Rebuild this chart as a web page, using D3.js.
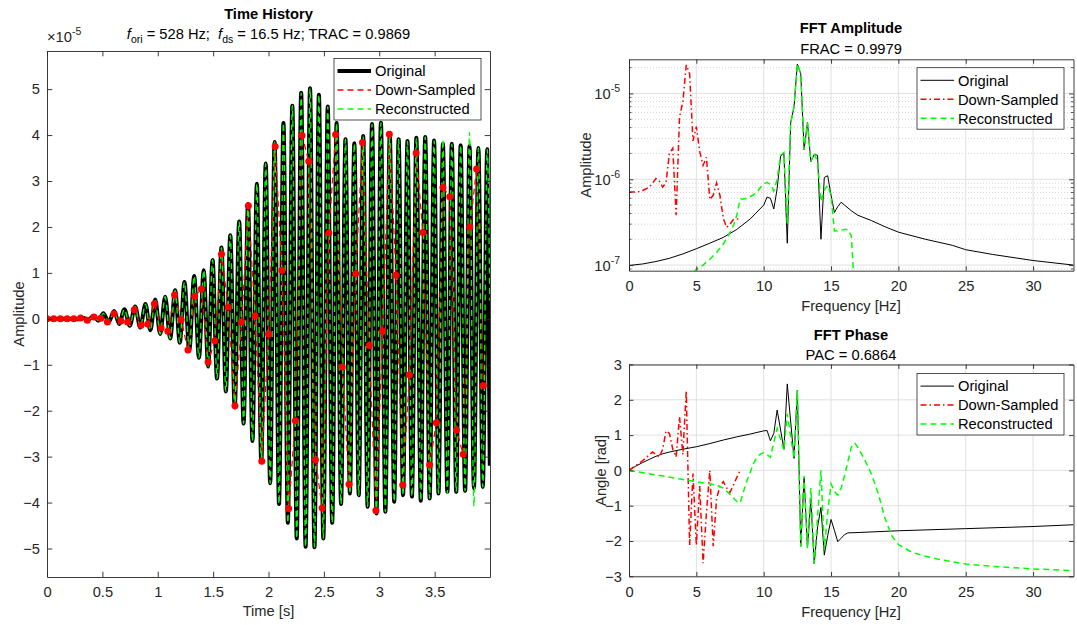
<!DOCTYPE html>
<html>
<head>
<meta charset="utf-8">
<script src="https://cdn.jsdelivr.net/npm/d3@7"></script>
<style>
  body { margin: 0; background: #fff; }
  svg { display: block; }
</style>
</head>
<body>
<script>
// Time history: extrema of the signals (units of 1e-5)
var thTime = [0, 0.104, 0.149, 0.194, 0.239, 0.284, 0.329, 0.374, 0.419, 0.464,
  0.509, 0.557, 0.606, 0.652, 0.699, 0.747, 0.796, 0.842, 0.889, 0.933,
  0.977, 1.022, 1.067, 1.112, 1.157, 1.199, 1.241, 1.285, 1.329, 1.372,
  1.415, 1.455, 1.495, 1.535, 1.575, 1.615, 1.655, 1.695, 1.735, 1.775,
  1.815, 1.855, 1.895, 1.935, 1.975, 2.015, 2.055, 2.095, 2.135, 2.175,
  2.215, 2.255, 2.295, 2.335, 2.375, 2.415, 2.455, 2.495, 2.535, 2.575,
  2.615, 2.655, 2.695, 2.735, 2.775, 2.815, 2.855, 2.895, 2.935, 2.975,
  3.015, 3.055, 3.095, 3.135, 3.175, 3.215, 3.255, 3.295, 3.335, 3.375,
  3.415, 3.455, 3.495, 3.535, 3.575, 3.615, 3.655, 3.695, 3.735, 3.775,
  3.815, 3.855, 3.895, 3.935, 3.975, 3.998];
var thOrig = [0, 0, 0, -0.005, 0.005, -0.01, 0.02, -0.02, 0.06, -0.04,
  0.12, -0.07, 0.17, -0.11, 0.21, -0.15, 0.27, -0.19, 0.32, -0.25,
  0.42, -0.33, 0.48, -0.43, 0.62, -0.52, 0.80, -0.68, 0.93, -0.85,
  1.06, -1.04, 1.28, -1.30, 1.55, -1.58, 1.82, -1.93, 2.12, -2.28,
  2.50, -2.66, 2.94, -3.12, 3.38, -3.58, 3.85, -4.03, 4.26, -4.44,
  4.64, -4.78, 4.92, -4.96, 5.02, -4.97, 4.88, -4.78, 4.62, -4.44,
  4.26, -4.03, 3.91, -3.80, 3.82, -3.84, 3.98, -4.09, 4.24, -4.24,
  4.27, -4.20, 4.02, -3.98, 3.91, -3.84, 3.87, -3.87, 3.94, -3.96,
  3.96, -3.91, 3.88, -3.80, 3.81, -3.77, 3.81, -3.77, 3.78, -3.75,
  3.76, -3.69, 3.72, -3.66, 3.69, -3.2];
var thRecon = [0, 0, 0, -0.005, 0.005, -0.01, 0.02, -0.02, 0.06, -0.04,
  0.12, -0.07, 0.17, -0.11, 0.21, -0.15, 0.27, -0.19, 0.32, -0.25,
  0.42, -0.33, 0.48, -0.43, 0.62, -0.52, 0.80, -0.68, 0.93, -0.85,
  1.06, -1.04, 1.28, -1.30, 1.55, -1.58, 1.82, -1.93, 2.12, -2.28,
  2.50, -2.66, 2.94, -3.12, 3.38, -3.58, 3.85, -4.03, 4.26, -4.44,
  4.64, -4.78, 4.92, -4.96, 5.02, -4.97, 4.88, -4.78, 4.62, -4.44,
  4.26, -4.03, 3.91, -3.80, 3.82, -3.84, 3.98, -4.09, 4.24, -4.24,
  4.27, -4.20, 4.02, -3.98, 3.91, -3.84, 3.87, -3.87, 3.94, -3.96,
  3.96, -3.91, 3.88, -3.80, 3.90, -3.80, 3.81, -3.77, 3.78, -3.75,
  4.06, -4.08, 3.72, -3.66, 3.69, 0.4];

// Down-sampled points (16.5 Hz), units of 1e-5
var dsRate = 16.5;
var dsSamples = [0, 0, 0, 0, 0, 0.02, -0.03, 0.04, 0.01, -0.07,
  0.11, -0.05, -0.07, 0.2, -0.14, -0.11, 0.33, -0.2, -0.27, 0.52,
  -0.02, -0.68, 0.49, 0.65, -0.94, -0.48, 1.41, 0.25, -1.89, -0.07,
  2.46, 0.06, -3.1, -0.33, 3.75, 1.06, -4.13, -2.22, 3.99, 3.43,
  -3.07, -4.12, 1.87, 4.01, -1.05, -3.6, 0.98, 3.84, -0.58, -4.17,
  -0.27, 4.02, 0.95, -3.62, -1.22, 3.61, 1.88, -3.18, -2.26, 2.86,
  2.66, -2.42, -2.95, 2.0, 3.26, -1.45];

// FFT amplitude
var ampOrigF = [0, 1, 2, 3, 4, 5, 6, 7, 8, 9, 9.5, 10, 10.25, 10.5, 10.75, 11, 11.25, 11.5, 11.75,
  12, 12.25, 12.5, 12.75, 13, 13.25, 13.5, 13.75, 14, 14.25, 14.5, 14.75, 15, 15.25, 15.5, 15.75,
  16, 16.5, 17, 18, 19, 20, 22, 24, 25, 27, 30, 33];
var ampOrigV = [9.9e-8, 1.03e-7, 1.1e-7, 1.2e-7, 1.35e-7, 1.55e-7, 1.8e-7, 2.1e-7, 2.6e-7, 3.45e-7,
  4.15e-7, 5.0e-7, 6.2e-7, 6.0e-7, 4.5e-7, 7.8e-7, 1.85e-6, 2.0e-6, 1.8e-7,
  4.5e-6, 7e-6, 2.2e-5, 1.7e-5, 2.2e-6, 4.6e-6, 1.6e-6, 1.95e-6, 1.9e-6, 2.0e-7, 1.05e-6, 1.1e-6,
  6.5e-7, 4.1e-7, 4.8e-7, 5.4e-7, 5.0e-7, 4.3e-7, 3.8e-7, 3.3e-7, 2.8e-7, 2.42e-7, 2.0e-7,
  1.7e-7, 1.51e-7, 1.33e-7, 1.13e-7, 1.0e-7];
var ampDsF = [0, 0.25, 0.5, 0.75, 1, 1.25, 1.5, 1.75, 2, 2.25, 2.5, 2.75, 3, 3.25, 3.5, 3.75, 4,
  4.25, 4.5, 4.75, 5, 5.25, 5.5, 5.75, 6, 6.25, 6.5, 6.75, 7, 7.25, 7.5, 7.75, 8, 8.25];
var ampDsV = [7.1e-7, 7.1e-7, 7.1e-7, 7.2e-7, 7.4e-7, 7.7e-7, 8.1e-7, 9.0e-7, 1.02e-6, 9.5e-7,
  8.1e-7, 9.2e-7, 2.0e-6, 2.3e-6, 3.8e-7, 5.3e-6, 8e-6, 2.15e-5, 1.7e-5, 2.8e-6, 4.1e-6,
  2.1e-6, 1.45e-6, 1.8e-6, 5.8e-7, 6.5e-7, 9.1e-7, 6.5e-7, 3.5e-7, 2.75e-7, 3.0e-7, 3.4e-7,
  3.45e-7, 3.45e-7];
var ampRecF = [4.5, 4.75, 5, 5.5, 6, 6.5, 7, 7.5, 7.75, 8, 8.25, 8.5, 8.75, 9, 9.25, 9.5, 9.75,
  10, 10.25, 10.5, 10.75, 11, 11.25, 11.5, 11.75, 12, 12.25, 12.5, 12.75, 13, 13.25, 13.5,
  13.75, 14, 14.25, 14.5, 14.75, 15, 15.25, 15.5, 15.75, 16, 16.25, 16.5, 16.75, 17];
var ampRecV = [6.5e-8, 8.2e-8, 8.9e-8, 1.0e-7, 1.17e-7, 1.4e-7, 1.75e-7, 2.4e-7, 2.9e-7, 3.8e-7,
  5.9e-7, 5.9e-7, 6.0e-7, 6.3e-7, 6.6e-7, 7.0e-7, 8.0e-7, 8.8e-7, 9.2e-7, 8.7e-7, 7.3e-7,
  1.0e-6, 1.9e-6, 2.05e-6, 3.0e-7, 4.5e-6, 7e-6, 2.2e-5, 1.7e-5, 2.2e-6, 4.6e-6, 1.6e-6,
  2.0e-6, 1.6e-6, 5.5e-7, 7.5e-7, 8.5e-7, 6.5e-7, 2.5e-7, 2.5e-7, 2.55e-7, 2.6e-7, 2.6e-7,
  2.2e-7, 5e-8, 3e-8];

// FFT phase (rad)
var phOrigF = [0, 0.5, 1, 1.5, 2, 2.5, 3, 4, 5, 6, 7, 8, 9, 10, 10.25, 10.5, 10.75, 11, 11.5, 11.75,
  12.25, 12.5, 12.75, 13, 13.25, 13.5, 13.75, 14, 14.25, 14.5, 14.75, 15, 15.25, 15.5, 15.75,
  16, 16.25, 17, 20, 25, 30, 33];
var phOrigV = [0, 0.12, 0.22, 0.31, 0.40, 0.47, 0.52, 0.60, 0.67, 0.76, 0.86, 0.95, 1.03, 1.12,
  1.13, 0.84, 1.05, 1.71, 0.6, 2.45, 0.34, 2.27, -2.15, -0.2, -2.2, -0.8, -2.65, -1.6, -1.05,
  -2.4, -1.85, -1.39, -1.7, -2.02, -1.92, -1.82, -1.77, -1.76, -1.71, -1.65, -1.59, -1.54];
var phDsF = ampDsF;
var phDsV = [0, 0.07, 0.14, 0.2, 0.27, 0.35, 0.44, 0.52, 0.45, 0.38, 0.6, 1.12, 1.05, 0.6, 0.38,
  1.52, 0.45, 2.26, -2.12, -0.09, -2.12, -0.44, -2.63, -1.2, 0.0, -2.15, -0.8, -0.45, -0.32,
  -0.5, -0.62, -0.42, -0.2, 0.0];
var phRecF = [0, 5, 6, 6.5, 7, 7.5, 8, 8.25, 8.5, 8.75, 9, 9.25, 9.5, 9.75, 10, 10.25, 10.5, 10.75,
  11, 11.5, 11.75, 12.25, 12.5, 12.75, 13, 13.25, 13.5, 13.75, 14, 14.25, 14.5, 14.75, 15,
  15.25, 15.5, 15.75, 16, 16.25, 16.5, 16.75, 17, 17.5, 18, 18.5, 19, 19.5, 20, 21, 22, 23, 24,
  25, 27, 30, 33];
var phRecV = [0, -0.32, -0.38, -0.42, -0.5, -0.68, -0.88, -0.92, -0.6, -0.3, -0.05, 0.2, 0.38,
  0.46, 0.5, 0.45, 0.37, 0.8, 1.19, 0.58, 1.6, 0.34, 2.27, -2.16, -0.15, -2.2, -0.5, -2.65,
  -1.3, 0.0, -2.25, -1.2, -0.38, -0.6, -0.7, -0.5, -0.15, 0.25, 0.65, 0.78, 0.65, 0.3, -0.1,
  -0.65, -1.35, -1.85, -2.1, -2.32, -2.43, -2.52, -2.59, -2.65, -2.72, -2.79, -2.84];

// Ticks
var timeTicks = [0, 0.5, 1, 1.5, 2, 2.5, 3, 3.5];
var thYTicks = [-5, -4, -3, -2, -1, 0, 1, 2, 3, 4, 5];
var freqTicks = [0, 5, 10, 15, 20, 25, 30];
var ampTicks = [1e-7, 1e-6, 1e-5];
var phaseTicks = [-3, -2, -1, 0, 1, 2, 3];
var legendLabels = ["Original", "Down-Sampled", "Reconstructed"];

// ---------------------------------------------------------------
var font = '"Liberation Sans", Arial, Helvetica, sans-serif';
var fs = 14.7;
var ink = "#262626";
var red = "#ff0000", green = "#00ff00";

var svg = d3.select("body").append("svg")
    .attr("width", 1077).attr("height", 625)
    .attr("font-family", font).attr("font-size", fs);
var defs = svg.append("defs");

function styleAxis(sel) {
  sel.attr("font-family", font).attr("font-size", fs);
  sel.selectAll("path.domain").attr("stroke", ink).attr("stroke-width", 0.9);
  sel.selectAll(".tick line").attr("stroke", ink).attr("stroke-width", 0.9);
  sel.selectAll(".tick text").attr("fill", ink);
}

function clipFor(id, x, y) {
  var x0 = x.range()[0], x1 = x.range()[1], y0 = y.range()[0], y1 = y.range()[1];
  defs.append("clipPath").attr("id", id).append("rect")
    .attr("x", x0).attr("y", y1).attr("width", x1 - x0).attr("height", y0 - y1);
  return svg.append("g").attr("clip-path", "url(#" + id + ")");
}

function frame(x, y, o) {
  var x0 = x.range()[0], x1 = x.range()[1], y0 = y.range()[0], y1 = y.range()[1];
  var none = function() { return ""; };
  svg.append("g").attr("transform", "translate(0," + y0 + ")")
    .call(d3.axisBottom(x).tickValues(o.xt).tickFormat(o.xf).tickSizeInner(-o.tl).tickSizeOuter(0).tickPadding(10))
    .call(styleAxis);
  svg.append("g").attr("transform", "translate(0," + y1 + ")")
    .call(d3.axisTop(x).tickValues(o.xt).tickFormat(none).tickSizeInner(-o.tl).tickSizeOuter(0))
    .call(styleAxis);
  svg.append("g").attr("transform", "translate(" + x0 + ",0)")
    .call(d3.axisLeft(y).tickValues(o.yt).tickFormat(o.yf || none).tickSizeInner(-o.tl).tickSizeOuter(0).tickPadding(7))
    .call(styleAxis);
  svg.append("g").attr("transform", "translate(" + x1 + ",0)")
    .call(d3.axisRight(y).tickValues(o.yt).tickFormat(none).tickSizeInner(-o.tl).tickSizeOuter(0))
    .call(styleAxis);
}

function titles(cx, t1, y1, t2, y2) {
  svg.append("text").attr("x", cx).attr("y", y1).attr("text-anchor", "middle")
    .attr("font-weight", "bold").attr("fill", "#000").text(t1);
  if (t2) svg.append("text").attr("x", cx).attr("y", y2).attr("text-anchor", "middle")
    .attr("fill", "#000").text(t2);
}

function xLabel(cx, y, t) {
  svg.append("text").attr("x", cx).attr("y", y).attr("text-anchor", "middle").attr("fill", ink).text(t);
}
function yLabel(x, cy, t) {
  svg.append("text").attr("transform", "translate(" + x + "," + cy + ") rotate(-90)")
    .attr("text-anchor", "middle").attr("fill", ink).text(t);
}

function legend(bx, by, styles) {
  var g = svg.append("g");
  g.append("rect").attr("x", bx).attr("y", by).attr("width", 147).attr("height", 61.5)
    .attr("fill", "#fff").attr("stroke", ink).attr("stroke-width", 0.8);
  legendLabels.forEach(function(lab, i) {
    var yy = by + 12.6 + i * 19;
    var s = styles[i];
    g.append("line").attr("x1", bx + 3.5).attr("x2", bx + 37).attr("y1", yy).attr("y2", yy)
      .attr("stroke", s.c).attr("stroke-width", s.w).attr("stroke-dasharray", s.d || null);
    g.append("text").attr("x", bx + 41).attr("y", yy + 5.2).attr("fill", "#000").text(lab);
  });
}

function xy(x, y, xs, ys) { return xs.map(function(v, i) { return [x(v), y(ys[i])]; }); }

// ---------------- Time history ----------------
var xT = d3.scaleLinear().domain([0, 4]).range([47, 490]);
var yT = d3.scaleLinear().domain([-5.62, 5.83]).range([577, 51]);
var gT = clipFor("clipT", xT, yT);
var smooth = d3.line().curve(d3.curveMonotoneX);
var straight = d3.line();
var dsTime = dsSamples.map(function(v, k) { return k / dsRate; });

gT.append("path").attr("d", smooth(xy(xT, yT, thTime, thOrig)))
  .attr("fill", "none").attr("stroke", "#000").attr("stroke-width", 4).attr("stroke-linejoin", "round");
gT.append("path").attr("d", straight(xy(xT, yT, dsTime, dsSamples)))
  .attr("fill", "none").attr("stroke", red).attr("stroke-width", 1.3).attr("stroke-dasharray", "6,4");
gT.append("path").attr("d", smooth(xy(xT, yT, thTime, thRecon)))
  .attr("fill", "none").attr("stroke", green).attr("stroke-width", 1.3).attr("stroke-dasharray", "6,4");
gT.selectAll("circle").data(dsSamples).enter().append("circle")
  .attr("cx", function(d, k) { return xT(dsTime[k]); })
  .attr("cy", function(d) { return yT(d); })
  .attr("r", 3.5).attr("fill", red);

frame(xT, yT, { xt: timeTicks, xf: d3.format(""), yt: thYTicks, yf: d3.format(""), tl: 5.3 });

var ex = svg.append("text").attr("x", 47).attr("y", 42).attr("fill", ink);
ex.append("tspan").text("\u00d710");
ex.append("tspan").attr("font-size", 10.5).attr("dy", -7).text("-5");

titles(268.5, "Time History", 19);
var sub = svg.append("text").attr("x", 268.5).attr("y", 38.5).attr("text-anchor", "middle")
  .attr("fill", "#000").style("white-space", "pre");
sub.append("tspan").attr("font-style", "italic").text("f");
sub.append("tspan").attr("font-size", 10.5).attr("dy", 4).text("ori");
sub.append("tspan").attr("dy", -4).text(" = 528 Hz;  ");
sub.append("tspan").attr("font-style", "italic").text("f");
sub.append("tspan").attr("font-size", 10.5).attr("dy", 4).text("ds");
sub.append("tspan").attr("dy", -4).text(" = 16.5 Hz; TRAC = 0.9869");

xLabel(268.5, 616, "Time [s]");
yLabel(23.5, 314, "Amplitude");
legend(334, 58.5, [{ c: "#000", w: 4 }, { c: red, w: 1.5, d: "6,4" }, { c: green, w: 1.5, d: "6,4" }]);

// ---------------- FFT amplitude ----------------
var xF = d3.scaleLinear().domain([0, 33]).range([629, 1073.5]);
var yA = d3.scaleLog().domain([8.6e-8, 2.5e-5]).range([270.7, 59.3]);
var yP = d3.scaleLinear().domain([-3, 3]).range([576.3, 364.5]);

function grid(x, y, yt, minor) {
  var g = svg.append("g");
  var x0 = x.range()[0], x1 = x.range()[1], y0 = y.range()[0], y1 = y.range()[1];
  if (minor) {
    g.selectAll("line.mn").data(minor).enter().append("line")
      .attr("x1", x0).attr("x2", x1).attr("y1", function(d) { return y(d); }).attr("y2", function(d) { return y(d); })
      .attr("stroke", "#c4c4c4").attr("stroke-width", 0.7).attr("stroke-dasharray", "1,2");
  }
  g.selectAll("line.vx").data(freqTicks.slice(1)).enter().append("line")
    .attr("x1", function(d) { return x(d); }).attr("x2", function(d) { return x(d); })
    .attr("y1", y0).attr("y2", y1).attr("stroke", "#dedede").attr("stroke-width", 0.9);
  g.selectAll("line.hy").data(yt).enter().append("line")
    .attr("x1", x0).attr("x2", x1).attr("y1", function(d) { return y(d); }).attr("y2", function(d) { return y(d); })
    .attr("stroke", "#dedede").attr("stroke-width", 0.9);
}

var minorAmp = [];
[1e-7, 1e-6, 1e-5].forEach(function(dec) {
  [2, 3, 4, 5, 6, 7, 8, 9].forEach(function(m) {
    var v = m * dec;
    if (v > yA.domain()[0] && v < yA.domain()[1]) minorAmp.push(v);
  });
});
minorAmp.push(9e-8);

grid(xF, yA, ampTicks, minorAmp);
var gA = clipFor("clipA", xF, yA);
gA.append("path").attr("d", straight(xy(xF, yA, ampOrigF, ampOrigV)))
  .attr("fill", "none").attr("stroke", "#000").attr("stroke-width", 1);
gA.append("path").attr("d", straight(xy(xF, yA, ampDsF, ampDsV)))
  .attr("fill", "none").attr("stroke", red).attr("stroke-width", 1.5).attr("stroke-dasharray", "6,3,1.5,3");
gA.append("path").attr("d", straight(xy(xF, yA, ampRecF, ampRecV)))
  .attr("fill", "none").attr("stroke", green).attr("stroke-width", 1.5).attr("stroke-dasharray", "6,4");

frame(xF, yA, { xt: freqTicks, xf: d3.format(""), yt: ampTicks, yf: null, tl: 4.4 });
// minor ticks on log axis
svg.append("g").selectAll("line").data(minorAmp).enter().append("line")
  .attr("x1", 629).attr("x2", 631.5).attr("y1", function(d) { return yA(d); }).attr("y2", function(d) { return yA(d); })
  .attr("stroke", ink).attr("stroke-width", 0.8);
svg.append("g").selectAll("line").data(minorAmp).enter().append("line")
  .attr("x1", 1071).attr("x2", 1073.5).attr("y1", function(d) { return yA(d); }).attr("y2", function(d) { return yA(d); })
  .attr("stroke", ink).attr("stroke-width", 0.8);
ampTicks.forEach(function(t) {
  var lab = svg.append("text").attr("x", 620).attr("y", yA(t) + 5.5).attr("text-anchor", "end").attr("fill", ink);
  lab.append("tspan").text("10");
  lab.append("tspan").attr("font-size", 10.5).attr("dy", -6.5).text(String(Math.round(Math.log10(t))));
});

titles(851, "FFT Amplitude", 33.3, "FRAC = 0.9979", 54);
xLabel(851, 311, "Frequency [Hz]");
yLabel(590.5, 165, "Amplitude");
legend(917, 67.7, [{ c: "#000", w: 1 }, { c: red, w: 1.5, d: "6,3,1.5,3" }, { c: green, w: 1.5, d: "6,4" }]);

// ---------------- FFT phase ----------------
grid(xF, yP, phaseTicks, null);
var gP = clipFor("clipP", xF, yP);
gP.append("path").attr("d", straight(xy(xF, yP, phOrigF, phOrigV)))
  .attr("fill", "none").attr("stroke", "#000").attr("stroke-width", 1);
gP.append("path").attr("d", straight(xy(xF, yP, phDsF, phDsV)))
  .attr("fill", "none").attr("stroke", red).attr("stroke-width", 1.5).attr("stroke-dasharray", "6,3,1.5,3");
gP.append("path").attr("d", straight(xy(xF, yP, phRecF, phRecV)))
  .attr("fill", "none").attr("stroke", green).attr("stroke-width", 1.5).attr("stroke-dasharray", "6,4");

frame(xF, yP, { xt: freqTicks, xf: d3.format(""), yt: phaseTicks, yf: d3.format(""), tl: 4.4 });

titles(851, "FFT Phase", 340, "PAC = 0.6864", 360);
xLabel(851, 616.5, "Frequency [Hz]");
yLabel(605.5, 470.4, "Angle [rad]");
legend(917, 373.5, [{ c: "#000", w: 1 }, { c: red, w: 1.5, d: "6,3,1.5,3" }, { c: green, w: 1.5, d: "6,4" }]);
</script>
</body>
</html>
